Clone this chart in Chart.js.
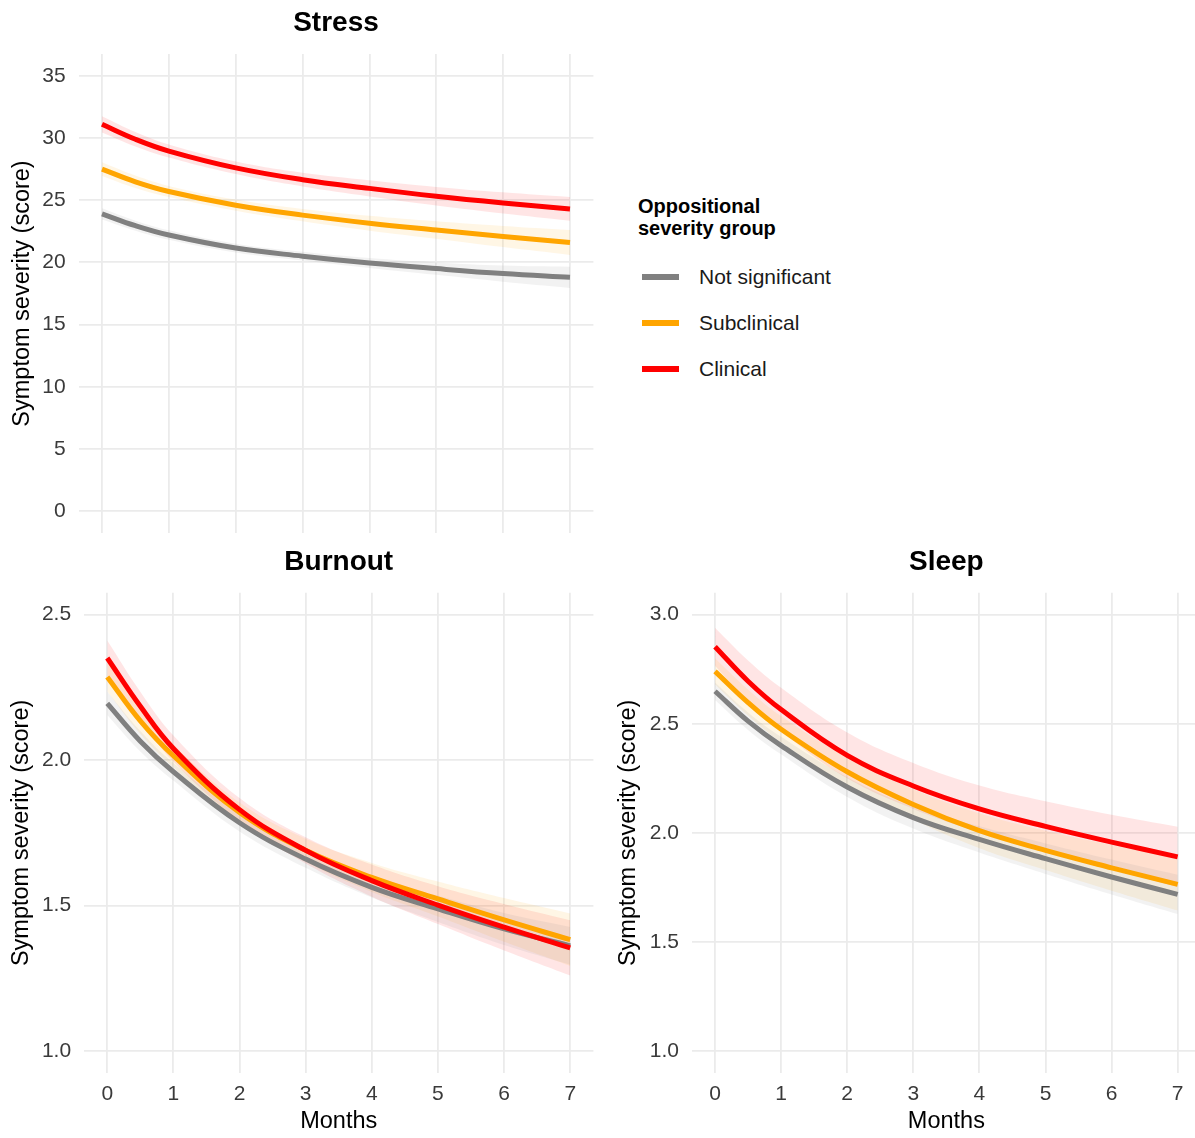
<!DOCTYPE html>
<html>
<head>
<meta charset="utf-8">
<title>Symptom severity by oppositional severity group</title>
<script src="https://cdn.jsdelivr.net/npm/chart.js@4.4.1/dist/chart.umd.min.js"></script>
<style>
html, body { margin: 0; padding: 0; background: #fff; }
#wrap { position: relative; width: 1195px; height: 1138px; overflow: hidden; font-family: "Liberation Sans", Arial, Helvetica, sans-serif; }
#wrap canvas { position: absolute; }
#legend-title { position: absolute; left: 638px; top: 195px; font-size: 20px; font-weight: bold; line-height: 22px; color: #000; }
.legend-item { position: absolute; left: 642px; height: 30px; display: flex; align-items: center; font-size: 21px; color: #1a1a1a; }
.legend-key { width: 37px; height: 6px; margin-right: 20px; }
</style>
</head>
<body>
<div id="wrap">
    <canvas id="stress-chart" width="600" height="560" style="left:0;top:0"></canvas>
    <canvas id="burnout-chart" width="600" height="598" style="left:0;top:540px"></canvas>
    <canvas id="sleep-chart" width="601" height="598" style="left:600px;top:540px"></canvas>
    <div id="legend-title">Oppositional<br>severity group</div>
    <div id="legend-items"></div>
</div>

<script>
const months = [0, 0.5, 1, 2, 3, 4, 5, 6, 7];
const monthTicks = [0, 1, 2, 3, 4, 5, 6, 7];

const groupNames = ['Not significant', 'Subclinical', 'Clinical'];
const groupColors = ['#808080', '#FFA500', '#FF0000'];
const ribbonColors = ['rgba(128,128,128,0.1)', 'rgba(255,165,0,0.1)', 'rgba(255,0,0,0.1)'];

// Stress
const stressNotSig = [23.9, 22.95, 22.2, 21.15, 20.5, 19.95, 19.5, 19.1, 18.8];
const stressSub = [27.5, 26.48, 25.7, 24.6, 23.8, 23.15, 22.6, 22.08, 21.6];
const stressClin = [31.1, 29.9, 28.95, 27.6, 26.65, 25.95, 25.32, 24.78, 24.3];
const stressNotSigCi = [0.45, 0.4, 0.38, 0.35, 0.35, 0.4, 0.5, 0.65, 0.85];
const stressSubCi = [0.55, 0.5, 0.45, 0.45, 0.5, 0.6, 0.7, 0.85, 1.0];
const stressClinCi = [0.65, 0.58, 0.52, 0.5, 0.55, 0.65, 0.75, 0.85, 0.95];
const stressTicks = [0, 5, 10, 15, 20, 25, 30, 35];

// Burnout
const burnNotSig = [2.195, 2.065, 1.96, 1.785, 1.66, 1.563, 1.489, 1.42, 1.362];
const burnSub = [2.286, 2.135, 2.015, 1.82, 1.69, 1.597, 1.523, 1.451, 1.383];
const burnClin = [2.351, 2.185, 2.04, 1.83, 1.69, 1.586, 1.502, 1.426, 1.355];
const burnNotSigCi = [0.04, 0.035, 0.03, 0.03, 0.03, 0.035, 0.045, 0.055, 0.065];
const burnSubCi = [0.05, 0.045, 0.04, 0.035, 0.04, 0.05, 0.06, 0.075, 0.09];
const burnClinCi = [0.06, 0.05, 0.045, 0.04, 0.045, 0.055, 0.065, 0.08, 0.095];
const burnTicks = [1.0, 1.5, 2.0, 2.5];

// Sleep
const sleepNotSig = [2.649, 2.512, 2.40, 2.21, 2.07, 1.97, 1.882, 1.798, 1.718];
const sleepSub = [2.74, 2.597, 2.475, 2.28, 2.13, 2.01, 1.92, 1.84, 1.764];
const sleepClin = [2.853, 2.695, 2.565, 2.355, 2.215, 2.11, 2.03, 1.958, 1.89];
const sleepNotSigCi = [0.04, 0.04, 0.04, 0.045, 0.05, 0.06, 0.07, 0.08, 0.09];
const sleepSubCi = [0.06, 0.06, 0.06, 0.065, 0.07, 0.08, 0.09, 0.105, 0.12];
const sleepClinCi = [0.087, 0.095, 0.1, 0.105, 0.105, 0.107, 0.115, 0.125, 0.138];
const sleepTicks = [1.0, 1.5, 2.0, 2.5, 3.0];

Chart.defaults.font.family = '"Liberation Sans", Arial, Helvetica, sans-serif';
Chart.defaults.animation = false;

const gridColor = '#EBEBEB';
const tickColor = '#3a3a3a';
const curveTension = 0.4;

function points(vals, offsets, sign) {
    return months.map((m, i) => ({ x: m, y: vals[i] + sign * (offsets ? offsets[i] : 0) }));
}

// build one facet panel
function makePanel(id, title, values, cis, yTicks, yMin, yMax, decimals, layout) {
    const datasets = [];

    values.forEach((vals, i) => {
        datasets.push({
            data: points(vals, cis[i], 1),
            borderWidth: 0,
            pointRadius: 0,
            backgroundColor: ribbonColors[i],
            fill: '+1',
            tension: curveTension,
            order: 10
        });
        datasets.push({
            data: points(vals, cis[i], -1),
            borderWidth: 0,
            pointRadius: 0,
            fill: false,
            tension: curveTension,
            order: 10
        });
    });

    values.forEach((vals, i) => {
        datasets.push({
            label: groupNames[i],
            data: points(vals, null, 0),
            borderColor: groupColors[i],
            borderWidth: 5,
            pointRadius: 0,
            fill: false,
            tension: curveTension,
            order: 3 - i
        });
    });

    return new Chart(document.getElementById(id), {
        type: 'line',
        data: { datasets: datasets },
        options: {
            responsive: false,
            layout: { padding: { left: 0, right: layout.right, top: 0, bottom: 0 } },
            plugins: {
                legend: { display: false },
                tooltip: { enabled: false },
                filler: { drawTime: 'beforeDatasetsDraw' },
                title: {
                    display: true,
                    fullSize: false,
                    text: title,
                    color: '#000',
                    font: { size: 28, weight: 'bold' },
                    padding: { top: layout.titleTop, bottom: layout.titleBottom }
                }
            },
            scales: {
                x: {
                    type: 'linear',
                    min: -0.35,
                    max: 7.35,
                    afterBuildTicks: (scale) => { scale.ticks = monthTicks.map(v => ({ value: v })); },
                    afterFit: (scale) => { scale.height = layout.xHeight; },
                    grid: { color: gridColor, lineWidth: 1.8, drawTicks: false },
                    border: { display: false },
                    ticks: {
                        display: layout.showX,
                        padding: 9,
                        color: tickColor,
                        font: { size: 21 },
                        callback: (v) => String(v)
                    },
                    title: {
                        display: layout.showX,
                        text: 'Months',
                        color: '#000',
                        font: { size: 23.5 },
                        padding: { top: 0, bottom: 2 }
                    }
                },
                y: {
                    type: 'linear',
                    min: yMin,
                    max: yMax,
                    afterBuildTicks: (scale) => { scale.ticks = yTicks.map(v => ({ value: v })); },
                    afterFit: (scale) => { scale.width = layout.yWidth; },
                    grid: { color: gridColor, lineWidth: 1.8, drawTicks: false },
                    border: { display: false },
                    ticks: {
                        padding: 13,
                        color: tickColor,
                        font: { size: 21 },
                        callback: (v) => Number(v).toFixed(decimals)
                    },
                    title: {
                        display: true,
                        text: 'Symptom severity (score)',
                        color: '#000',
                        font: { size: 23.5 },
                        padding: { top: layout.yTitlePad, bottom: 0 }
                    }
                }
            }
        }
    });
}

makePanel('stress-chart', 'Stress',
    [stressNotSig, stressSub, stressClin],
    [stressNotSigCi, stressSubCi, stressClinCi],
    stressTicks, -1.75, 36.75, 0,
    { right: 6.6, titleTop: 6, titleBottom: 14.4, xHeight: 27, yWidth: 78.6, yTitlePad: 8, showX: false });

makePanel('burnout-chart', 'Burnout',
    [burnNotSig, burnSub, burnClin],
    [burnNotSigCi, burnSubCi, burnClinCi],
    burnTicks, 0.925, 2.575, 1,
    { right: 6.6, titleTop: 5, titleBottom: 14.2, xHeight: 65, yWidth: 84.1, yTitlePad: 7, showX: true });

makePanel('sleep-chart', 'Sleep',
    [sleepNotSig, sleepSub, sleepClin],
    [sleepNotSigCi, sleepSubCi, sleepClinCi],
    sleepTicks, 0.9, 3.1, 1,
    { right: 0.2, titleTop: 5, titleBottom: 14.2, xHeight: 65, yWidth: 91.9, yTitlePad: 14, showX: true });

// legend
const legendItems = document.getElementById('legend-items');
groupNames.forEach((name, i) => {
    const item = document.createElement('div');
    item.className = 'legend-item';
    item.style.top = (276.7 + i * 46.3 - 15) + 'px';
    item.innerHTML = `<span class="legend-key" style="background:${groupColors[i]}"></span><span>${name}</span>`;
    legendItems.appendChild(item);
});
</script>
</body>
</html>
